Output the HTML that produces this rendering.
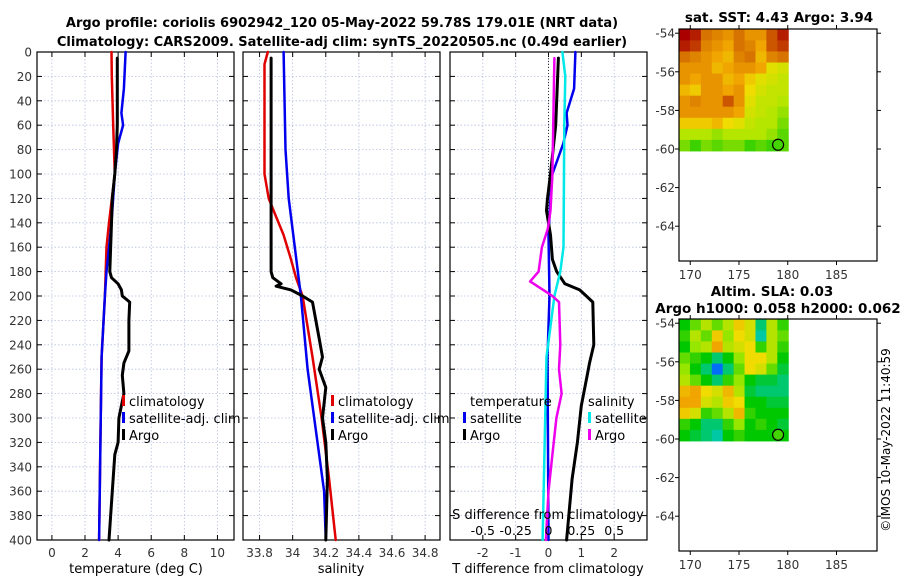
<!DOCTYPE html>
<html><head><meta charset="utf-8"><style>
body{margin:0;background:#fff}
svg{display:block;font-family:"DejaVu Sans","Liberation Sans",sans-serif}
</style></head><body>
<svg id="fig" width="900" height="580" viewBox="0 0 900 580" xmlns="http://www.w3.org/2000/svg">
<text x="342" y="27" font-size="13" font-weight="bold" text-anchor="middle">Argo profile: coriolis 6902942_120 05-May-2022 59.78S 179.01E (NRT data)</text>
<text x="342" y="46" font-size="13" font-weight="bold" text-anchor="middle">Climatology: CARS2009. Satellite-adj clim: synTS_20220505.nc (0.49d earlier)</text>
<text x="779" y="22" font-size="13.5" font-weight="bold" text-anchor="middle">sat. SST: 4.43 Argo: 3.94</text>
<text x="772" y="296" font-size="13.5" font-weight="bold" text-anchor="middle">Altim. SLA: 0.03</text>
<text x="778" y="313" font-size="13.5" font-weight="bold" text-anchor="middle">Argo h1000: 0.058 h2000: 0.062</text>
<text transform="translate(890,440) rotate(-90)" font-size="12" text-anchor="middle">©IMOS 10-May-2022 11:40:59</text>
<g id="plots"></g>
</svg>
<script>
// ---------- data ----------
const depthTicks=[0,20,40,60,80,100,120,140,160,180,200,220,240,260,280,300,320,340,360,380,400];
const tempTicks=[0,2,4,6,8,10];
const salTicks=[33.8,34,34.2,34.4,34.6,34.8];
const salTickLabels=["33.8","34","34.2","34.4","34.6","34.8"];
const tdiffTicks=[-2,-1,0,1,2];
const sdiffTicks=[-0.5,-0.25,0,0.25,0.5];
const sdiffTickLabels=["-0.5","-0.25","0","0.25","0.5"];
const climTdepth=[0,20,60,100,140,160,200,250,300,400];
const climT=[3.6,3.62,3.7,3.8,3.45,3.3,3.2,3.0,2.95,2.85];
const satTdepth=[0,30,50,60,75,100,140,180,200,250,400];
const satT=[4.45,4.35,4.2,4.3,4.0,3.8,3.6,3.3,3.2,3.0,2.85];
const argoTdepth=[5,60,80,100,120,140,180,185,190,195,200,205,220,245,255,265,280,300,320,330,360,400];
const argoT=[3.95,3.95,3.9,3.8,3.65,3.6,3.5,3.6,4.0,4.2,4.25,4.7,4.65,4.65,4.35,4.25,4.35,4.05,4.0,3.8,3.65,3.45];
const climSdepth=[0,10,100,120,130,150,170,185,200,250,300,350,400];
const climS=[33.85,33.83,33.83,33.855,33.885,33.945,33.99,34.02,34.06,34.12,34.175,34.22,34.26];
const satSdepth=[0,80,120,200,260,360,400];
const satS=[33.945,33.957,33.976,34.05,34.09,34.19,34.2];
const argoSdepth=[5,180,185,190,192,195,200,205,235,250,260,275,300,320,350,400];
const argoS=[33.87,33.87,33.88,33.93,33.9,33.99,34.06,34.12,34.16,34.18,34.16,34.2,34.18,34.2,34.21,34.2];
const dTsatDepth=[0,30,50,60,75,100,120,150,200,250,400];
const dTsat=[0.82,0.78,0.55,0.58,0.45,0.12,0.06,0.0,0.03,-0.03,0.0];
const dTargoDepth=[5,60,100,120,130,150,170,180,190,195,200,205,240,255,265,290,320,350,400];
const dTargo=[0.3,0.22,0.06,-0.03,-0.06,0.06,0.12,0.25,0.5,0.95,1.15,1.35,1.38,1.25,1.18,1.0,0.88,0.72,0.55];
const dSsatDepth=[0,20,60,160,180,200,250,400];
const dSsat=[0.106,0.128,0.12,0.114,0.09,0.045,-0.015,-0.045];
const dSargoDepth=[5,100,130,145,160,180,188,195,200,205,240,260,280,300,330,360,400];
const dSargo=[0.045,0.03,0.015,-0.005,-0.05,-0.075,-0.14,-0.04,0.03,0.08,0.09,0.08,0.1,0.06,0.03,0.0,-0.02];
const mapLonTicks=[170,175,180,185];
const mapLatTicks=[-54,-56,-58,-60,-62,-64];
const gridLon=[168.85,180.05];
const gridLat=[-53.8,-60.1];
const argoLon=179.01, argoLat=-59.78;
const sstGrid=[
[1.0,0.95,0.8,0.75,0.7,0.8,0.7,0.7,0.85,0.95],
[0.95,0.9,0.75,0.7,0.65,0.8,0.75,0.65,0.85,0.9],
[0.8,0.75,0.7,0.65,0.6,0.75,0.8,0.6,0.75,0.8],
[0.7,0.7,0.7,0.6,0.65,0.7,0.7,0.65,0.45,0.4],
[0.7,0.65,0.7,0.7,0.6,0.65,0.55,0.45,0.4,0.35],
[0.6,0.55,0.7,0.7,0.65,0.7,0.5,0.4,0.35,0.35],
[0.7,0.75,0.7,0.7,0.85,0.7,0.45,0.35,0.35,0.3],
[0.7,0.7,0.7,0.7,0.7,0.65,0.4,0.35,0.3,0.25],
[0.55,0.55,0.55,0.6,0.5,0.45,0.35,0.3,0.3,0.2],
[0.3,0.3,0.3,0.25,0.3,0.3,0.3,0.3,0.25,0.15],
[0.2,0.1,0.2,0.15,0.2,0.2,0.1,0.15,0.1,0.15]];
const slaGrid=[
[0.4,0.5,0.6,0.5,0.6,0.75,0.65,0.3,0.6,0.45],
[0.45,0.6,0.5,0.75,0.55,0.7,0.65,0.25,0.6,0.5],
[0.4,0.55,0.6,0.85,0.6,0.65,0.7,0.45,0.6,0.45],
[0.5,0.45,0.4,0.3,0.4,0.55,0.7,0.7,0.6,0.4],
[0.55,0.4,0.3,0.05,0.3,0.5,0.7,0.65,0.5,0.35],
[0.6,0.5,0.4,0.3,0.45,0.55,0.4,0.35,0.35,0.3],
[0.8,0.85,0.7,0.65,0.8,0.6,0.35,0.3,0.3,0.3],
[0.85,0.85,0.65,0.6,0.75,0.7,0.4,0.4,0.35,0.35],
[0.75,0.65,0.45,0.5,0.6,0.8,0.45,0.4,0.4,0.4],
[0.45,0.4,0.3,0.3,0.45,0.55,0.4,0.45,0.4,0.35],
[0.4,0.35,0.3,0.25,0.4,0.45,0.4,0.4,0.4,0.4]];

// ---------- helpers ----------
const NS="http://www.w3.org/2000/svg";
const root=document.getElementById('plots');
function el(tag,attrs,parent){const e=document.createElementNS(NS,tag);for(const k in attrs)e.setAttribute(k,attrs[k]);(parent||root).appendChild(e);return e;}
function txt(s,x,y,size,anchor,parent){const t=el('text',{x:x,y:y,'font-size':size,'text-anchor':anchor||'middle'},parent);t.textContent=s;return t;}
const Y0=52,Y1=540;
const yDepth=d=>Y0+(d/400)*(Y1-Y0);
function mkPanel(name,x0,x1,vmin,vmax,ticks,labels,leftLabels){
  const g=el('g',{});
  
  
  const sx=v=>x0+(v-vmin)/(vmax-vmin)*(x1-x0);
  ticks.forEach((t,i)=>{
    const x=sx(t);
    const gl=el('line',{x1:x,x2:x,y1:Y0,y2:Y1,stroke:'#b8bfe0','stroke-width':0.8,'stroke-dasharray':'1.5,2'},g);
    
    
    el('line',{x1:x,x2:x,y1:Y1,y2:Y1-5,stroke:'#000'},g);
    el('line',{x1:x,x2:x,y1:Y0,y2:Y0+5,stroke:'#000'},g);
    const tl=txt(labels[i],x,557,12,'middle',g);
    
    
    tl.setAttribute('fill','#333');
  });
  depthTicks.forEach(d=>{
    const y=yDepth(d);
    const gl=el('line',{x1:x0,x2:x1,y1:y,y2:y,stroke:'#b8bfe0','stroke-width':0.8,'stroke-dasharray':'1.5,2'},g);
    
    
    el('line',{x1:x0,x2:x0+5,y1:y,y2:y,stroke:'#000'},g);
    el('line',{x1:x1,x2:x1-5,y1:y,y2:y,stroke:'#000'},g);
    if(leftLabels){
      const tl=txt(String(d),x0-5,y+4.5,12,'end',g);
      
      
      tl.setAttribute('fill','#333');
    }
  });
  const fr=el('rect',{x:x0,y:Y0,width:x1-x0,height:Y1-Y0,fill:'none',stroke:'#000','stroke-width':1.2},g);
  
  
  return {g,sx};
}
function series(p,name,xs,ds,color,w,dash){
  const pts=xs.map((v,i)=>p.sx(v).toFixed(1)+','+yDepth(ds[i]).toFixed(1)).join(' ');
  const l=el('polyline',{points:pts,fill:'none',stroke:color,'stroke-width':w,'stroke-linejoin':'round','stroke-linecap':'round'},p.g);
  if(dash)l.setAttribute('stroke-dasharray',dash);
  
  
}
function legend(g,x,y,color,label){
  if(color){const m=el('rect',{x:x,y:y-11,width:3,height:11,fill:color},g);
    
    }
  const t=txt(label,x+7,y,13,'start',g);
  
  
}

// ---------- panel 1: temperature ----------
const p1=mkPanel('temperature-panel',37,234,-0.9,11,tempTicks,tempTicks.map(String),true);
series(p1,'temp-climatology-line',climT,climTdepth,'#e00000',2.5);
series(p1,'temp-satellite-line',satT,satTdepth,'#0000ee',2.5);
series(p1,'temp-argo-line',argoT,argoTdepth,'#000',3);
legend(p1.g,122,406,'#e00000','climatology');
legend(p1.g,122,423,'#0000ee','satellite-adj. clim');
legend(p1.g,122,440,'#000','Argo');
txt('temperature (deg C)',136,573,13,'middle',p1.g);

// ---------- panel 2: salinity ----------
const p2=mkPanel('salinity-panel',243,440,33.70,34.89,salTicks,salTickLabels,false);
series(p2,'sal-climatology-line',climS,climSdepth,'#e00000',2.5);
series(p2,'sal-satellite-line',satS,satSdepth,'#0000ee',2.5);
series(p2,'sal-argo-line',argoS,argoSdepth,'#000',3);
legend(p2.g,331,406,'#e00000','climatology');
legend(p2.g,331,423,'#0000ee','satellite-adj. clim');
legend(p2.g,331,440,'#000','Argo');
txt('salinity',341,573,13,'middle',p2.g);

// ---------- panel 3: differences ----------
const p3=mkPanel('difference-panel',450,647,-3,3,tdiffTicks,tdiffTicks.map(String),false);
const zl=el('line',{x1:p3.sx(0),x2:p3.sx(0),y1:Y0,y2:Y1,stroke:'#333','stroke-width':1,'stroke-dasharray':'1,2'},p3.g);


const sScale=4; // S diff axis is 4x the T diff axis
series(p3,'tdiff-satellite-line',dTsat,dTsatDepth,'#0000ee',2.5);
series(p3,'tdiff-argo-line',dTargo,dTargoDepth,'#000',3);
series(p3,'sdiff-satellite-line',dSsat.map(v=>v*sScale),dSsatDepth,'#00e8e8',2.5);
series(p3,'sdiff-argo-line',dSargo.map(v=>v*sScale),dSargoDepth,'#ee00ee',2.5);
txt('temperature',470,406,13,'start',p3.g);
legend(p3.g,463,423,'#0000ee','satellite');
legend(p3.g,463,440,'#000','Argo');
txt('salinity',588,406,13,'start',p3.g);
legend(p3.g,588,423,'#00e8e8','satellite');
legend(p3.g,588,440,'#ee00ee','Argo');
txt('S difference from climatology',548,519,13,'middle',p3.g);
sdiffTicks.forEach((v,i)=>{
  const t=txt(sdiffTickLabels[i],p3.sx(v*sScale),535,12.5,'middle',p3.g);
  
  
});
txt('T difference from climatology',548,573,13,'middle',p3.g);

// ---------- maps ----------
function lerpColor(stops,v){
  v=Math.max(0,Math.min(1,v));
  for(let i=1;i<stops.length;i++){if(v<=stops[i][0]){const a=stops[i-1],b=stops[i];const t=(v-a[0])/(b[0]-a[0]);
    return 'rgb('+[1,2,3].map(k=>Math.round(a[k]+(b[k]-a[k])*t)).join(',')+')';}}
  const l=stops[stops.length-1];return 'rgb('+l[1]+','+l[2]+','+l[3]+')';
}
const sstStops=[[0,0,200,0],[0.3,180,230,0],[0.5,240,220,0],[0.65,240,165,0],[0.8,215,115,0],[1,170,0,0]];
const slaStops=[[0,0,80,255],[0.2,0,200,220],[0.4,0,200,0],[0.55,150,230,0],[0.7,240,220,0],[0.85,240,165,0],[1,220,110,0]];
function mkMap(name,top,grid,stops,labelY){
  const g=el('g',{});
  
  
  const x0=679,x1=877,y1=top+232;
  const sx=lon=>739+(lon-175)*9.75;
  const sy=lat=>top+120+(-60-lat)*19.3;
  const cx0=sx(gridLon[0]),cx1=sx(gridLon[1]),cy0=sy(gridLat[0]),cy1=sy(gridLat[1]);
  const nr=grid.length,nc=grid[0].length,cw=(cx1-cx0)/nc,ch=(cy1-cy0)/nr;
  grid.forEach((row,r)=>row.forEach((v,c)=>{
    const cell=el('rect',{x:(cx0+c*cw).toFixed(2),y:(cy0+r*ch).toFixed(2),width:(cw+0.5).toFixed(2),height:(ch+0.5).toFixed(2),fill:lerpColor(stops,v)},g);
    
    
  }));
  const mk=el('circle',{cx:sx(argoLon),cy:sy(argoLat),r:5.5,fill:'#44d400',stroke:'#000','stroke-width':1.2},g);
  
  
  const fr=el('rect',{x:x0,y:top,width:x1-x0,height:y1-top,fill:'none',stroke:'#000','stroke-width':1.2},g);
  
  
  mapLonTicks.forEach(l=>{const x=sx(l);
    el('line',{x1:x,x2:x,y1:y1,y2:y1+4,stroke:'#000'},g);
    el('line',{x1:x,x2:x,y1:top,y2:top-4,stroke:'#000'},g);
    const t=txt(String(l),x,labelY,12,'middle',g);
    
    
    t.setAttribute('fill','#333');});
  mapLatTicks.forEach(l=>{const y=sy(l);
    el('line',{x1:x0,x2:x0-4,y1:y,y2:y,stroke:'#000'},g);
    el('line',{x1:x1,x2:x1+4,y1:y,y2:y,stroke:'#000'},g);
    const t=txt(String(l),x0-4,y+4.5,12,'end',g);
    
    
    t.setAttribute('fill','#333');});
}
mkMap('sst-map',29,sstGrid,sstStops,279);
mkMap('sla-map',319,slaGrid,slaStops,569);
</script>
</body></html>
